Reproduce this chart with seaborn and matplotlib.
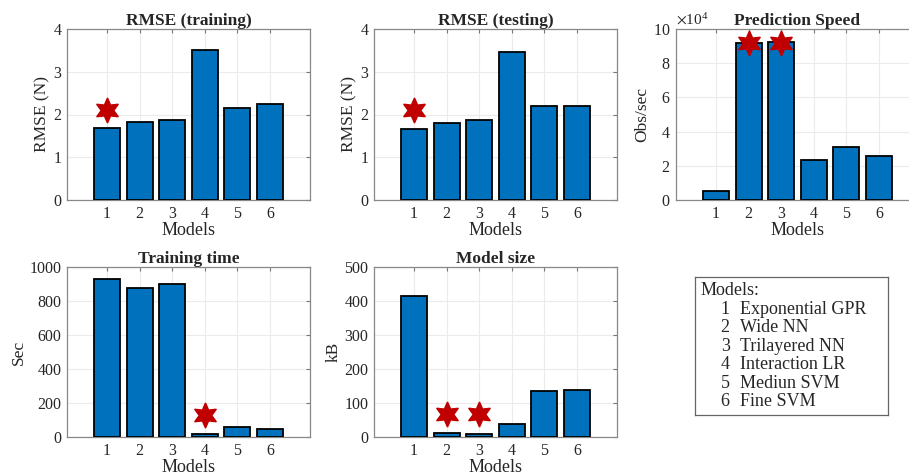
import matplotlib
matplotlib.use("Agg")
import matplotlib.pyplot as plt
import seaborn as sns
import pandas as pd

# data
models = [1, 2, 3, 4, 5, 6]
rmse_train = [1.68, 1.82, 1.86, 3.50, 2.16, 2.24]
rmse_test = [1.65, 1.80, 1.87, 3.47, 2.20, 2.20]
pred_speed = [5000, 92000, 92500, 23500, 31000, 25500]
train_time = [930, 875, 898, 18, 57, 50]
model_size = [415, 13, 9, 38, 136, 139]
model_names = ["Exponential GPR", "Wide NN", "Trilayered NN",
               "Interaction LR", "Mediun SVM", "Fine SVM"]

# best-model stars (model, height)
star_train = ([1], [2.1])
star_test = ([1], [2.1])
star_speed = ([2, 3], [92000, 92000])
star_time = ([4], [130])
star_size = ([2, 3], [67, 67])

sns.set_style("white")
plt.rcParams["font.family"] = ["Liberation Serif", "DejaVu Serif"]
plt.rcParams["mathtext.fontset"] = "stix"

BAR = "#0072BD"
STAR = "#C00000"
W, H = 909, 476

fig = plt.figure(figsize=(W / 100, H / 100), dpi=100)


def px_axes(left, top, right, bottom):
    return fig.add_axes([left / W, 1 - bottom / H, (right - left) / W, (bottom - top) / H])


def panel(ax, values, stars, title, ylabel, ymax, ystep):
    df = pd.DataFrame({"model": models, "value": values})
    sns.barplot(data=df, x="model", y="value", native_scale=True, width=0.8,
                color=BAR, saturation=1, edgecolor="black", linewidth=1.3, ax=ax, zorder=3)
    sx, sy = stars
    ax.plot(sx, sy, linestyle="none", marker=(6, 1, 0), markersize=18,
            color=STAR, markeredgecolor=STAR, zorder=5)
    ax.set_xlim(-0.23, 7.23)
    ax.set_ylim(0, ymax)
    ax.set_xticks(models)
    ax.set_yticks([i * ystep for i in range(int(round(ymax / ystep)) + 1)])
    ax.set_title(title, fontsize=12.5, fontweight="bold", pad=3)
    ax.set_xlabel("Models", fontsize=13, labelpad=0)
    ax.set_ylabel(ylabel, fontsize=12.5, labelpad=2)
    ax.grid(True, color="#ebebeb", linewidth=0.8, zorder=0)
    ax.set_axisbelow(True)
    ax.tick_params(direction="in", length=3, labelsize=11.5, color="#777777",
                   top=True, right=True, pad=4)
    for s in ax.spines.values():
        s.set_visible(True)
        s.set_color("#888888")
        s.set_linewidth(0.9)


ax1 = px_axes(67, 29, 310, 200)
panel(ax1, rmse_train, star_train, "RMSE (training)", "RMSE (N)", 4, 1)

ax2 = px_axes(374, 29, 617, 200)
panel(ax2, rmse_test, star_test, "RMSE (testing)", "RMSE (N)", 4, 1)

ax3 = px_axes(676, 29, 919, 200)
panel(ax3, pred_speed, star_speed, "Prediction Speed", "Obs/sec", 100000, 20000)
ax3.ticklabel_format(axis="y", style="sci", scilimits=(4, 4), useMathText=True)
ax3.yaxis.get_offset_text().set_fontsize(11)

ax4 = px_axes(67, 267, 310, 437)
panel(ax4, train_time, star_time, "Training time", "Sec", 1000, 200)

ax5 = px_axes(374, 267, 617, 437)
panel(ax5, model_size, star_size, "Model size", "kB", 500, 100)

# legend box with model names
axl = px_axes(695, 277, 888, 415)
axl.set_xticks([])
axl.set_yticks([])
for s in axl.spines.values():
    s.set_visible(True)
    s.set_color("#666666")
    s.set_linewidth(0.9)
axl.text(0.03, 0.90, "Models:", fontsize=13, va="center", ha="left", transform=axl.transAxes)
for i, (m, name) in enumerate(zip(models, model_names)):
    y = 0.90 - (i + 1) * 0.134
    axl.text(0.18, y, str(m), fontsize=13, va="center", ha="right", transform=axl.transAxes)
    axl.text(0.235, y, name, fontsize=13, va="center", ha="left", transform=axl.transAxes)

fig.savefig("out.png", dpi=100)
